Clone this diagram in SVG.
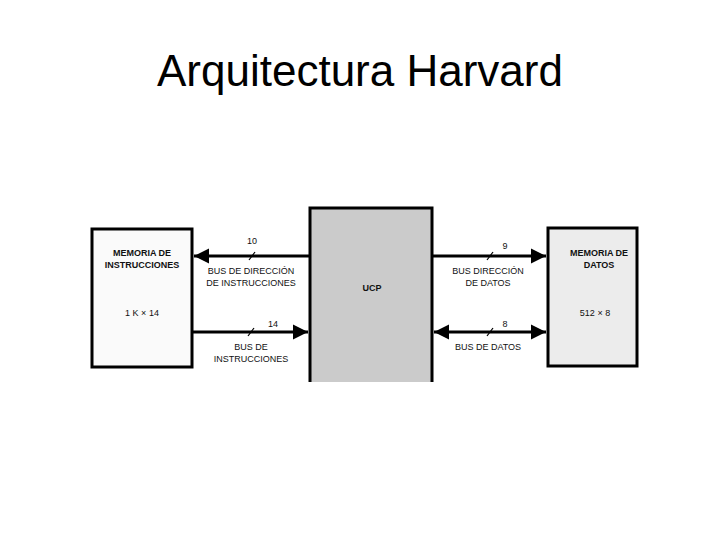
<svg xmlns="http://www.w3.org/2000/svg" width="720" height="540" viewBox="0 0 720 540">
<defs>
<marker id="ah" viewBox="0 0 10 10" refX="10" refY="5" markerWidth="5" markerHeight="5.5" orient="auto-start-reverse" markerUnits="strokeWidth"><path d="M0,0 L10,5 L0,10 Z" fill="#000"/></marker>
<style>
.box{stroke:#000;stroke-width:3}
.bus{stroke:#000;stroke-width:3;fill:none}
.tick{stroke:#000;stroke-width:1.2}
.lbl{font-family:"Liberation Sans",Arial,sans-serif;font-size:9px;fill:#111;text-anchor:middle}
.b{font-weight:bold}
.title{font-family:"Liberation Sans",Arial,sans-serif;font-size:44px;fill:#000;text-anchor:middle}
</style>
</defs>
<rect width="720" height="540" fill="#fff"/>
<text class="title" x="360" y="86">Arquitectura Harvard</text>
<g id="mem-instr">
<rect class="box" x="92" y="229" width="100" height="138" fill="#fafafa"/>
<text class="lbl b" x="142" y="256">MEMORIA DE</text>
<text class="lbl b" x="142" y="268">INSTRUCCIONES</text>
<text class="lbl" x="142" y="316">1 K × 14</text>
</g>
<g id="ucp">
<rect x="310" y="208" width="122" height="174" fill="#cbcbcb"/>
<path class="box" d="M310,382 V208 H432 V382" fill="none"/>
<text class="lbl b" x="372" y="291">UCP</text>
</g>
<g id="mem-datos">
<rect class="box" x="548" y="228" width="89" height="138" fill="#ececec"/>
<text class="lbl b" x="599" y="256">MEMORIA DE</text>
<text class="lbl b" x="599" y="268">DATOS</text>
<text class="lbl" x="595" y="316">512 × 8</text>
</g>
<g id="connectors">
<line class="bus" x1="310" y1="256" x2="194" y2="256" marker-end="url(#ah)"/>
<line class="tick" x1="249" y1="260" x2="255" y2="252"/>
<text class="lbl" x="252" y="244">10</text>
<text class="lbl" x="251" y="274">BUS DE DIRECCIÓN</text>
<text class="lbl" x="251" y="286">DE INSTRUCCIONES</text>
<line class="bus" x1="192" y1="332" x2="308" y2="332" marker-end="url(#ah)"/>
<line class="tick" x1="248" y1="336" x2="254" y2="328"/>
<text class="lbl" x="273" y="327">14</text>
<text class="lbl" x="251" y="350">BUS DE</text>
<text class="lbl" x="251" y="362">INSTRUCCIONES</text>
<line class="bus" x1="432" y1="256" x2="546" y2="256" marker-end="url(#ah)"/>
<line class="tick" x1="487" y1="260" x2="493" y2="252"/>
<text class="lbl" x="505" y="249">9</text>
<text class="lbl" x="488" y="274">BUS DIRECCIÓN</text>
<text class="lbl" x="488" y="286">DE DATOS</text>
<line class="bus" x1="434" y1="332" x2="546" y2="332" marker-start="url(#ah)" marker-end="url(#ah)"/>
<line class="tick" x1="487" y1="336" x2="493" y2="328"/>
<text class="lbl" x="505" y="327">8</text>
<text class="lbl" x="488" y="350">BUS DE DATOS</text>
</g>
</svg>
